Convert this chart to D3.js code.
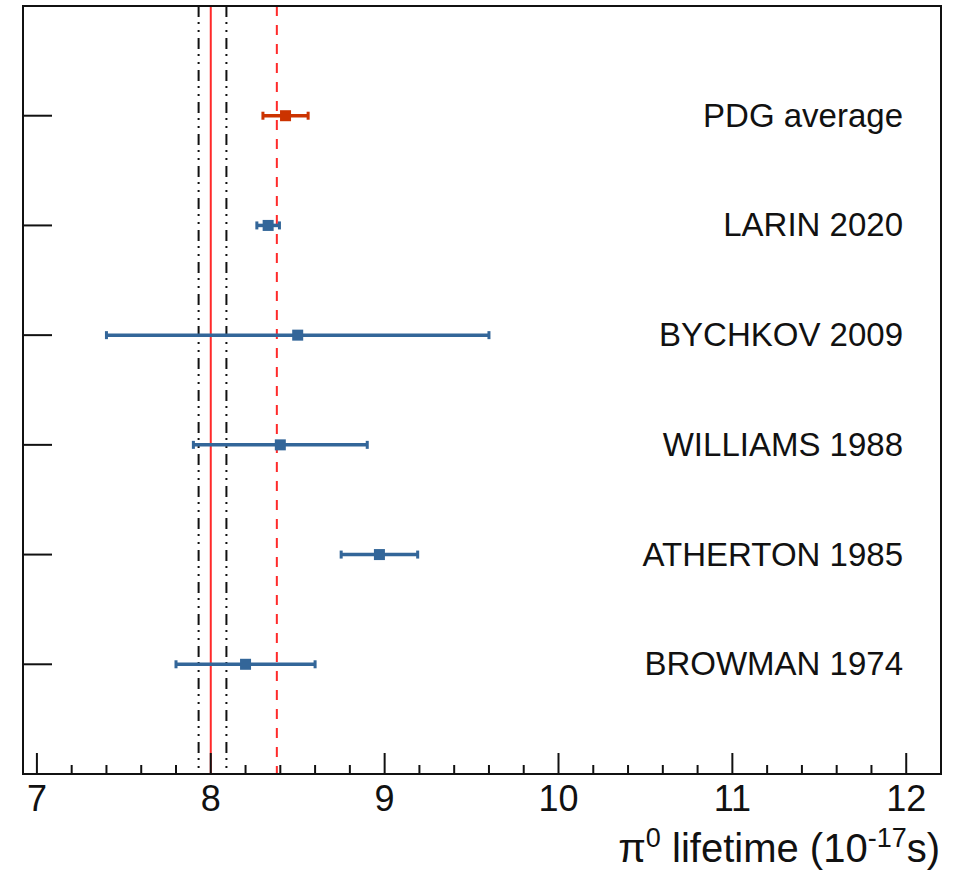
<!DOCTYPE html>
<html>
<head>
<meta charset="utf-8">
<script src="https://cdn.jsdelivr.net/npm/d3@7"></script>
<style>
  body { margin: 0; background: #fff; }
  text { font-family: "Liberation Sans", Arial, sans-serif; fill: #111; }
</style>
</head>
<body>
<div id="chart"></div>
<script>
// measurements, bottom row first
var experiments = ["BROWMAN 1974", "ATHERTON 1985", "WILLIAMS 1988", "BYCHKOV 2009", "LARIN 2020", "PDG average"];
var lifetimes   = [8.2, 8.97, 8.4, 8.5, 8.33, 8.43];
var errors      = [0.4, 0.22, 0.5, 1.1, 0.065, 0.13];
var isAverage   = [false, false, false, false, false, true];

var xTicks = [7, 8, 9, 10, 11, 12];
var theory = 8.0;              // solid red
var theoryBand = [7.93, 8.09]; // dash-dot black
var pdgLine = 8.38;            // dashed red

var W = 963, H = 870;
var padL = 23, padR = 941, padT = 6, padB = 774;

var svg = d3.select("#chart").append("svg")
    .attr("width", W).attr("height", H);

var x = d3.scaleLinear().domain([6.92, 12.2]).range([padL, padR]);
var y = d3.scaleLinear().domain([0, 7]).range([padB, padT]);

var blue = "#336699", red = "#cc3300";

// vertical reference lines
svg.selectAll("line.band")
    .data(theoryBand)
    .enter().append("line")
    .attr("x1", d => x(d)).attr("x2", d => x(d))
    .attr("y1", padT).attr("y2", padB)
    .attr("stroke", "#111").attr("stroke-width", 2)
    .attr("stroke-dasharray", "11,5,2,6,2,6");

svg.append("line")
    .attr("x1", x(theory)).attr("x2", x(theory))
    .attr("y1", padT).attr("y2", padB)
    .attr("stroke", "#ff2a2a").attr("stroke-width", 2);

svg.append("line")
    .attr("x1", x(pdgLine)).attr("x2", x(pdgLine))
    .attr("y1", padT).attr("y2", padB)
    .attr("stroke", "#ff2a2a").attr("stroke-width", 2)
    .attr("stroke-dasharray", "10,9");

// x axis ticks (drawn upward from the bottom frame)
var minor = d3.range(7, 12.21, 0.2).map(v => Math.round(v * 10) / 10);
svg.selectAll("line.xt")
    .data(minor)
    .enter().append("line")
    .attr("x1", d => x(d)).attr("x2", d => x(d))
    .attr("y1", padB)
    .attr("y2", d => xTicks.indexOf(d) >= 0 ? padB - 21 : padB - 9)
    .attr("stroke", "#111").attr("stroke-width", 2);

svg.selectAll("text.xl")
    .data(xTicks)
    .enter().append("text")
    .attr("x", d => x(d)).attr("y", 811)
    .attr("text-anchor", "middle")
    .style("font-size", "36px")
    .text(d => d);

// y ticks at each row
var rows = experiments.map((d, i) => i + 1);
svg.selectAll("line.yt")
    .data(rows)
    .enter().append("line")
    .attr("x1", padL).attr("x2", padL + 29)
    .attr("y1", d => y(d)).attr("y2", d => y(d))
    .attr("stroke", "#111").attr("stroke-width", 2);

// frame
svg.append("rect")
    .attr("x", padL).attr("y", padT)
    .attr("width", padR - padL).attr("height", padB - padT)
    .attr("fill", "none").attr("stroke", "#111").attr("stroke-width", 2);

// error bars
var pts = svg.selectAll("g.pt")
    .data(experiments.map((name, i) => ({name: name, v: lifetimes[i], e: errors[i], avg: isAverage[i], row: i + 1})))
    .enter().append("g");

pts.append("line")
    .attr("x1", d => x(d.v - d.e)).attr("x2", d => x(d.v + d.e))
    .attr("y1", d => y(d.row)).attr("y2", d => y(d.row))
    .attr("stroke", d => d.avg ? red : blue).attr("stroke-width", 3.5);

pts.selectAll("rect.cap")
    .data(d => [d.v - d.e, d.v + d.e].map(v => ({v: v, d: d})))
    .enter().append("rect")
    .attr("x", c => x(c.v) - 1.5).attr("y", c => y(c.d.row) - 4)
    .attr("width", 3).attr("height", 8)
    .attr("fill", c => c.d.avg ? red : blue);

pts.append("rect")
    .attr("x", d => x(d.v) - 5.5).attr("y", d => y(d.row) - 5.5)
    .attr("width", 11).attr("height", 11)
    .attr("fill", d => d.avg ? red : blue);

pts.append("text")
    .attr("x", 903).attr("y", d => y(d.row) + 11)
    .attr("text-anchor", "end")
    .style("font-size", "33px")
    .text(d => d.name);

// axis title
var title = svg.append("text")
    .attr("x", 940).attr("y", 862)
    .attr("text-anchor", "end")
    .style("font-size", "40px");
title.append("tspan").text("\u03c0");
title.append("tspan").attr("dy", -15).style("font-size", "27px").text("0");
title.append("tspan").attr("dy", 15).text(" lifetime (10");
title.append("tspan").attr("dy", -15).style("font-size", "27px").text("-17");
title.append("tspan").attr("dy", 15).text("s)");
</script>
</body>
</html>
